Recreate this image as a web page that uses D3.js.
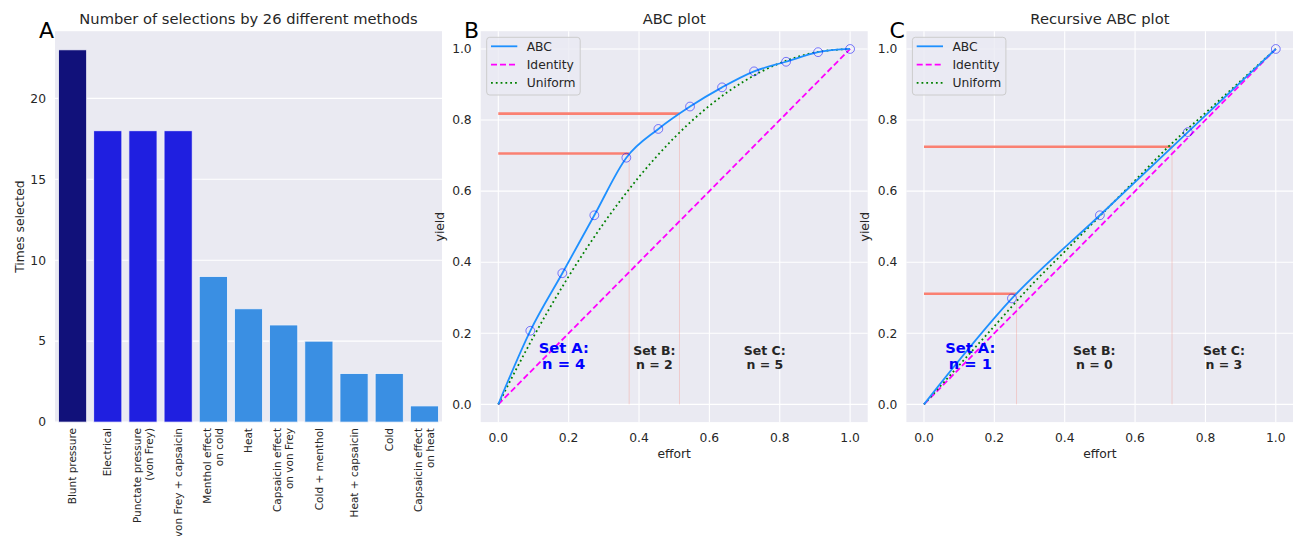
<!DOCTYPE html>
<html>
<head>
<meta charset="utf-8">
<script src="https://cdn.jsdelivr.net/npm/d3@7"></script>
<style>
body { margin: 0; background: #fff; }
text { font-family: "DejaVu Sans", sans-serif; fill: #262626; }
</style>
</head>
<body>
<svg id="fig" width="1293" height="536"></svg>
<script>
// panel A: selections per method
var methods = ["Blunt pressure", "Electrical", "Punctate pressure\n(von Frey)", "von Frey + capsaicin",
  "Menthol effect\non cold", "Heat", "Capsaicin effect\non von Frey", "Cold + menthol",
  "Heat + capsaicin", "Cold", "Capsaicin effect\non heat"];
var timesSelected = [23, 18, 18, 18, 9, 7, 6, 5, 3, 3, 1];
var barGroup = [0, 1, 1, 1, 2, 2, 2, 2, 2, 2, 2]; // recursive ABC membership
var barTicks = [0, 5, 10, 15, 20];

// panel B: ABC plot
var abcEffortB = [0, 0.091, 0.182, 0.273, 0.364, 0.455, 0.545, 0.636, 0.727, 0.818, 0.909, 1.0];
var abcYieldB = [0, 0.207, 0.369, 0.532, 0.694, 0.775, 0.838, 0.892, 0.937, 0.964, 0.991, 1.0];
var uniformEffort = [0, 0.1, 0.2, 0.3, 0.4, 0.5, 0.6, 0.7, 0.8, 0.9, 1.0];
var uniformYieldB = [0, 0.19, 0.36, 0.51, 0.64, 0.75, 0.84, 0.91, 0.96, 0.99, 1.0];
var cutEffortB = [0.372, 0.515];
var cutYieldB = [0.706, 0.818];
var setCountsB = [4, 2, 5];

// panel C: recursive ABC plot
var abcEffortC = [0, 0.25, 0.5, 0.75, 1.0];
var abcYieldC = [0, 0.298, 0.532, 0.766, 1.0];
var uniformYieldC = [0, 0.11, 0.22, 0.33, 0.43, 0.53, 0.63, 0.73, 0.82, 0.91, 1.0];
var cutEffortC = [0.263, 0.705];
var cutYieldC = [0.311, 0.725];
var setCountsC = [1, 0, 3];

var identity = [0, 1];
var axisTicks = [0, 0.2, 0.4, 0.6, 0.8, 1.0];
var setNames = ["Set A:", "Set B:", "Set C:"];
var legendNames = ["ABC", "Identity", "Uniform"];

var svg = d3.select("#fig");
var plotTop = 31.2, plotBottom = 422.1, plotW = 387;
var bg = "#EAEAF2";

// ---------- Panel A ----------
var leftA = 55;
var xBar = d3.scaleBand().domain(methods).range([leftA, leftA + plotW]).paddingInner(0.2).paddingOuter(0.1);
var yBar = d3.scaleLinear().domain([0, d3.max(timesSelected) * 1.05]).range([plotBottom, plotTop]);
var barColor = d3.scaleOrdinal().domain([0, 1, 2]).range(["#11117a", "#1f1fe0", "#3a8fe3"]);

var gA = svg.append("g");
gA.append("rect").attr("x", leftA).attr("y", plotTop).attr("width", plotW)
  .attr("height", plotBottom - plotTop).attr("fill", bg);
gA.selectAll("line.grid").data(barTicks).enter().append("line")
  .attr("x1", leftA).attr("x2", leftA + plotW)
  .attr("y1", d => yBar(d)).attr("y2", d => yBar(d))
  .attr("stroke", "#fff").attr("stroke-width", 1.1);
gA.selectAll("rect.bar").data(methods).enter().append("rect")
  .attr("x", d => xBar(d))
  .attr("width", xBar.bandwidth())
  .attr("y", (d, i) => yBar(timesSelected[i]))
  .attr("height", (d, i) => yBar(0) - yBar(timesSelected[i]))
  .attr("fill", (d, i) => barColor(barGroup[i]))
  .attr("stroke", "#f4f4fa").attr("stroke-width", 0.8);
gA.selectAll("text.ytick").data(barTicks).enter().append("text")
  .attr("x", leftA - 9).attr("y", d => yBar(d)).attr("dy", "0.35em")
  .attr("text-anchor", "end").style("font-size", "12.3px").text(d => d);

methods.forEach(function(m) {
  var lines = m.split("\n");
  var t = gA.append("text")
    .attr("transform", "translate(" + (xBar(m) + xBar.bandwidth() / 2) + ",428) rotate(-90)")
    .attr("text-anchor", "end").style("font-size", "10.5px");
  lines.forEach(function(l, i) {
    t.append("tspan").attr("x", 0)
      .attr("y", ((i - (lines.length - 1) / 2) * 1.15 + 0.35) + "em").text(l);
  });
});
gA.append("text").attr("transform", "translate(24," + ((plotTop + plotBottom) / 2) + ") rotate(-90)")
  .attr("text-anchor", "middle").style("font-size", "12.3px").text("Times selected");
gA.append("text").attr("x", leftA + plotW / 2).attr("y", 24).attr("text-anchor", "middle")
  .style("font-size", "14.7px").text("Number of selections by 26 different methods");
gA.append("text").attr("x", leftA - 1).attr("y", 37.7).attr("text-anchor", "end")
  .style("font-size", "22px").style("fill", "#000").text("A");

// ---------- Panels B and C ----------
function abcPanel(opt) {
  var x = d3.scaleLinear().domain([-0.05, 1.05]).range([opt.left, opt.left + plotW]);
  var y = d3.scaleLinear().domain([-0.05, 1.05]).range([plotBottom, plotTop]);
  var g = svg.append("g");

  g.append("rect").attr("x", opt.left).attr("y", plotTop).attr("width", plotW)
    .attr("height", plotBottom - plotTop).attr("fill", bg);
  g.selectAll("line.gx").data(axisTicks).enter().append("line")
    .attr("x1", d => x(d)).attr("x2", d => x(d)).attr("y1", plotTop).attr("y2", plotBottom)
    .attr("stroke", "#fff").attr("stroke-width", 1.1);
  g.selectAll("line.gy").data(axisTicks).enter().append("line")
    .attr("y1", d => y(d)).attr("y2", d => y(d)).attr("x1", opt.left).attr("x2", opt.left + plotW)
    .attr("stroke", "#fff").attr("stroke-width", 1.1);

  // cut lines
  opt.cutX.forEach(function(cx, i) {
    g.append("line").attr("x1", x(cx)).attr("x2", x(cx)).attr("y1", y(0)).attr("y2", y(opt.cutY[i]))
      .attr("stroke", "salmon").attr("stroke-opacity", 0.3).attr("stroke-width", 1);
    g.append("line").attr("x1", x(0)).attr("x2", x(cx)).attr("y1", y(opt.cutY[i])).attr("y2", y(opt.cutY[i]))
      .attr("stroke", "salmon").attr("stroke-width", 2.6);
  });

  var line = d3.line().x(d => x(d[0])).y(d => y(d[1]));
  var smooth = d3.line().x(d => x(d[0])).y(d => y(d[1])).curve(d3.curveMonotoneX);

  g.append("path").datum(identity.map((v, i) => [v, identity[i]]))
    .attr("d", line).attr("fill", "none").attr("stroke", "#ff00ff")
    .attr("stroke-width", 1.8).attr("stroke-dasharray", "6,3");
  g.append("path").datum(uniformEffort.map((v, i) => [v, opt.uniY[i]]))
    .attr("d", smooth).attr("fill", "none").attr("stroke", "green")
    .attr("stroke-width", 1.8).attr("stroke-dasharray", "1.8,3");
  var abcPts = opt.abcX.map((v, i) => [v, opt.abcY[i]]);
  g.append("path").datum(abcPts)
    .attr("d", smooth).attr("fill", "none").attr("stroke", "#1E90FF").attr("stroke-width", 1.8);
  g.selectAll("circle").data(abcPts.slice(1)).enter().append("circle")
    .attr("cx", d => x(d[0])).attr("cy", d => y(d[1])).attr("r", 4.4)
    .attr("fill", "none").attr("stroke", "#0000ff").attr("stroke-opacity", 0.5).attr("stroke-width", 1);

  // set annotations
  var bounds = [0].concat(opt.cutX, [1]);
  setNames.forEach(function(name, i) {
    var mid = (bounds[i] + bounds[i + 1]) / 2;
    var isA = i === 0;
    var t = g.append("text").attr("text-anchor", "middle")
      .style("font-size", isA ? "14.7px" : "12.5px").style("font-weight", "bold")
      .style("fill", isA ? "#0000ff" : "#262626");
    t.append("tspan").attr("x", x(mid)).attr("y", y(0.1)).attr("dy", "-1.08em").text(name);
    t.append("tspan").attr("x", x(mid)).attr("y", y(0.1)).text("n = " + opt.counts[i]);
  });

  // legend
  var lg = g.append("g").attr("transform", "translate(" + (opt.left + 6) + ",37.3)");
  lg.append("rect").attr("width", 93.5).attr("height", 57.7).attr("rx", 3)
    .attr("fill", bg).attr("fill-opacity", 0.8).attr("stroke", "#cccccc").attr("stroke-width", 1);
  var styles = [
    {c: "#1E90FF", dash: null},
    {c: "#ff00ff", dash: "6,3"},
    {c: "green", dash: "1.8,3"}
  ];
  legendNames.forEach(function(n, i) {
    var yy = 9 + i * 18.3;
    lg.append("line").attr("x1", 4.3).attr("x2", 30.6).attr("y1", yy).attr("y2", yy)
      .attr("stroke", styles[i].c).attr("stroke-width", 1.8)
      .attr("stroke-dasharray", styles[i].dash);
    lg.append("text").attr("x", 40).attr("y", yy).attr("dy", "0.35em")
      .style("font-size", "12.3px").text(n);
  });

  // axes text
  g.selectAll("text.xt").data(axisTicks).enter().append("text")
    .attr("x", d => x(d)).attr("y", plotBottom + 19.6).attr("text-anchor", "middle")
    .style("font-size", "12.3px").text(d => d.toFixed(1));
  g.selectAll("text.yt").data(axisTicks).enter().append("text")
    .attr("x", opt.left - 9).attr("y", d => y(d)).attr("dy", "0.35em").attr("text-anchor", "end")
    .style("font-size", "12.3px").text(d => d.toFixed(1));
  g.append("text").attr("x", opt.left + plotW / 2).attr("y", 458).attr("text-anchor", "middle")
    .style("font-size", "12.3px").text("effort");
  g.append("text").attr("transform", "translate(" + (opt.left - 37) + "," + ((plotTop + plotBottom) / 2) + ") rotate(-90)")
    .attr("text-anchor", "middle").style("font-size", "12.3px").text("yield");
  g.append("text").attr("x", opt.left + plotW / 2).attr("y", 24).attr("text-anchor", "middle")
    .style("font-size", "14.7px").text(opt.title);
  g.append("text").attr("x", opt.left - 1.5).attr("y", 37.7).attr("text-anchor", "end")
    .style("font-size", "22px").style("fill", "#000").text(opt.letter);
}

abcPanel({left: 480.7, title: "ABC plot", letter: "B", abcX: abcEffortB, abcY: abcYieldB,
  uniY: uniformYieldB, cutX: cutEffortB, cutY: cutYieldB, counts: setCountsB});
abcPanel({left: 906.4, title: "Recursive ABC plot", letter: "C", abcX: abcEffortC, abcY: abcYieldC,
  uniY: uniformYieldC, cutX: cutEffortC, cutY: cutYieldC, counts: setCountsC});
</script>
</body>
</html>
